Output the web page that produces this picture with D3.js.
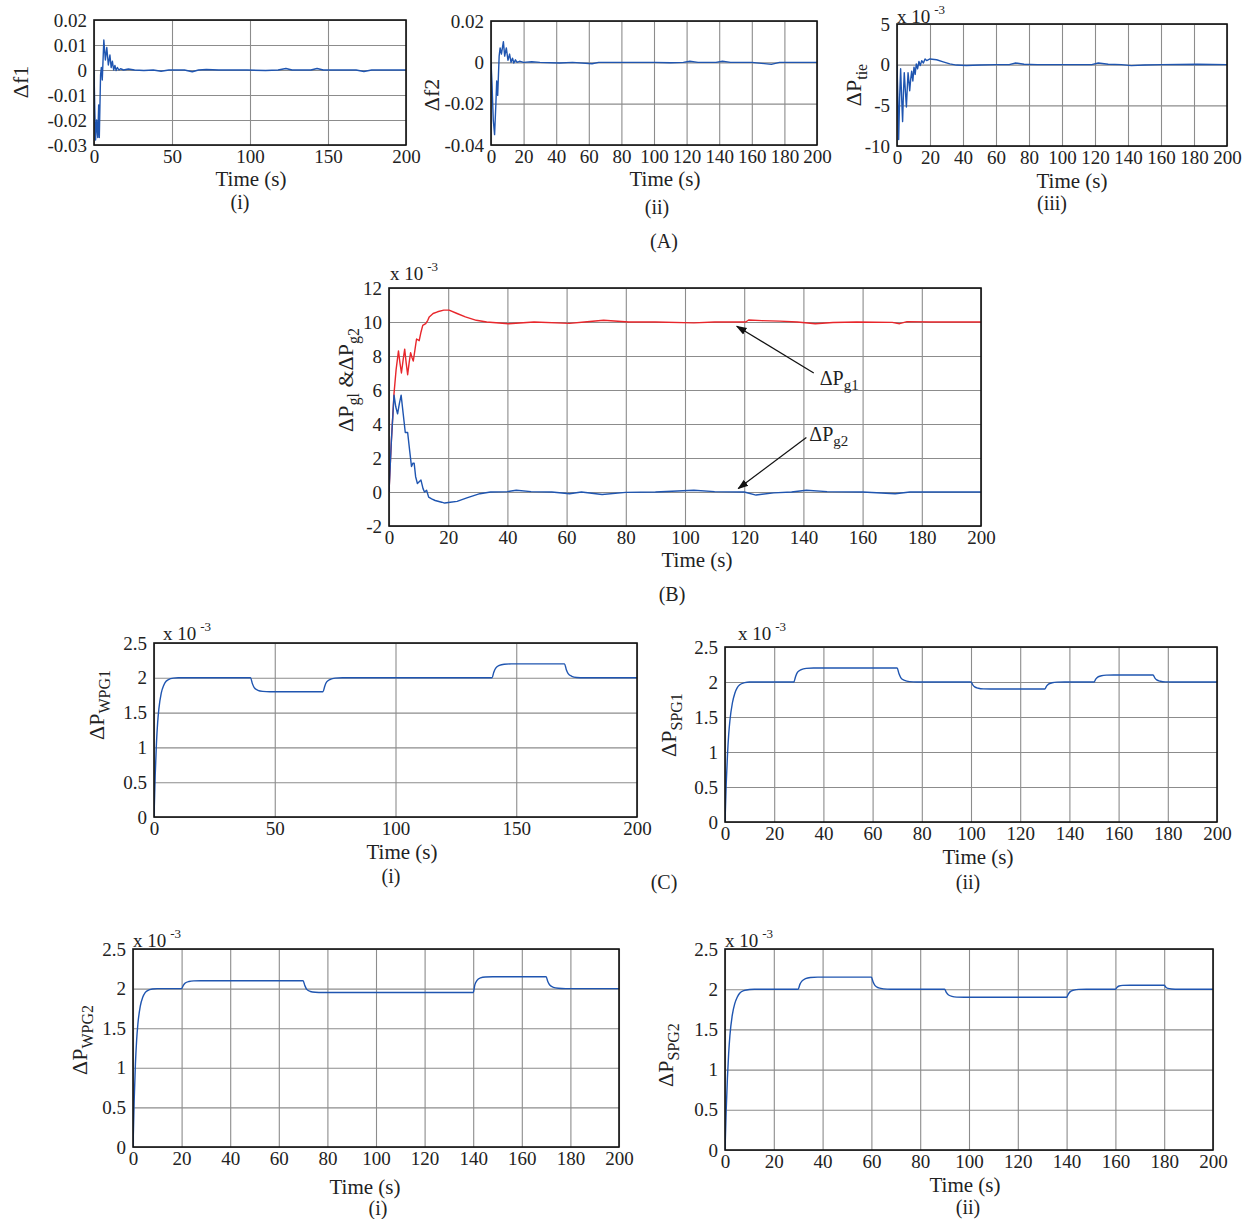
<!DOCTYPE html>
<html>
<head>
<meta charset="utf-8">
<script src="https://cdn.jsdelivr.net/npm/d3@7"></script>
<style>
  body { margin: 0; background: #fff; }
  text { font-family: "Liberation Serif", "Times New Roman", serif; fill: #222; }
</style>
</head>
<body>
<div id="view"></div>
<script>
// ---- data ----
var ticks200by50 = [0, 50, 100, 150, 200];
var ticks200by20 = [0, 20, 40, 60, 80, 100, 120, 140, 160, 180, 200];
var ticksF1 = [-0.03, -0.02, -0.01, 0, 0.01, 0.02];
var ticksF2 = [-0.04, -0.02, 0, 0.02];
var ticksTie = [-10, -5, 0, 5];
var ticksPg = [-2, 0, 2, 4, 6, 8, 10, 12];
var ticksRes = [0, 0.5, 1, 1.5, 2, 2.5];

// (A)(i) delta f1
var df1 = [[0,0],[0.5,-0.016],[1,-0.028],[1.7,-0.02],[2.4,-0.027],[3,-0.014],[3.4,-0.027],[4.2,-0.002],[4.7,0.001],[5.3,-0.004],[6.3,0.012],[7.3,0.004],[8.2,0.009],[9.2,0.002],[10.2,0.006],[11,0.001],[11.8,0.0035],[12.6,0],[13.4,0.0018],[14.2,-0.0002],[15,0.001],[16,0],[17,0.0005],[19,0],[22,0.0004],[26,0],[32,-0.0002],[38,0],[43,-0.0005],[48,0],[58,0],[63,-0.0007],[67,0],[72,0.0002],[80,0],[98,0],[110,-0.0002],[118,0],[123,0.0006],[127,0],[139,0],[143,0.0006],[147,0],[160,0],[168,0],[173,-0.0006],[178,0],[200,0]];

// (A)(ii) delta f2
var df2 = [[0,0],[0.6,-0.01],[1.4,-0.028],[2.2,-0.035],[3,-0.02],[3.5,-0.009],[4.1,-0.016],[5,0.003],[5.6,0.007],[6.4,0.004],[7.6,0.01],[8.4,0.003],[9.4,0.007],[10.4,0.001],[11.4,0.004],[12.3,0],[13.2,0.002],[14,-0.0003],[15,0.0012],[16,0],[17.5,0.0005],[20,0],[25,0.0003],[30,0],[42,-0.0003],[50,0],[62,-0.0007],[66,0],[80,0],[100,0],[110,-0.0002],[118,0],[122,0.0005],[127,0],[138,0],[142,0.0005],[147,0],[160,0],[172,-0.001],[177,0],[200,0]];

// (A)(iii) delta P tie, x 10^-3
var dPtie = [[0,0],[0.5,-4],[1,-9.2],[1.6,-4],[2.2,-0.5],[2.8,-4],[3.4,-7],[3.9,-3.5],[4.4,-1],[5,-3],[5.7,-5.2],[6.2,-3],[6.7,-1],[7.2,-2],[7.7,-3.2],[8.3,-1.8],[8.9,-0.8],[9.6,-2],[10.3,-0.3],[11,-1.2],[11.7,0.1],[12.5,-0.5],[13.3,0.4],[14.1,-0.1],[15,0.5],[16,0.2],[17,0.7],[18,0.5],[20,0.7],[24,0.6],[28,0.35],[32,0.1],[36,-0.05],[42,-0.1],[50,-0.05],[60,0],[68,0],[72,0.2],[77,0.05],[85,0],[110,0],[118,0],[122,0.2],[128,0.05],[136,0],[142,-0.12],[150,-0.05],[160,0],[182,0.05],[200,0]];

// (B) delta Pg1 and delta Pg2, x 10^-3
var dPg1 = [[0,0],[0.8,3],[1.7,5.8],[2.4,7.2],[3.2,8.3],[3.7,7.6],[4.2,7.0],[4.8,7.8],[5.3,8.4],[5.8,7.6],[6.3,6.9],[6.8,7.6],[7.3,8.2],[7.8,7.9],[8.2,7.7],[8.8,8.4],[9.3,9.0],[10.2,8.9],[10.8,9.4],[11.4,9.8],[12.4,9.9],[13.1,10.1],[13.6,10.3],[14.9,10.5],[16.4,10.6],[18.5,10.7],[20.3,10.7],[23,10.5],[25.8,10.3],[29.5,10.1],[33,10.0],[40.4,9.9],[49,10.0],[61,9.92],[66,10.0],[72.5,10.1],[81,10.0],[90,10.0],[103,9.95],[110,10.0],[120.5,10.0],[121.5,10.12],[126,10.08],[132,10.05],[138,10.0],[144,9.9],[150,9.97],[158,10.0],[170,9.98],[172.5,9.9],[175,10.02],[183,10.0],[200,10.0]];
var dPg2 = [[0,0],[0.8,3],[1.7,5.7],[2.3,5.0],[2.9,4.6],[3.5,5.2],[4.1,5.7],[4.8,4.6],[5.5,3.5],[6.3,3.5],[7.0,2.4],[7.6,1.5],[8.1,1.7],[8.5,1.7],[9.0,0.9],[9.6,0.5],[10.2,0.6],[10.8,0.7],[11.5,0.2],[12,0],[12.7,0.1],[13.4,-0.3],[14.4,-0.4],[15.6,-0.5],[17.8,-0.6],[18.8,-0.65],[20.7,-0.6],[23,-0.55],[26.3,-0.35],[30.7,-0.1],[34.3,0],[40,0.02],[43,0.1],[48,0.02],[55,0],[61,-0.1],[65,0],[72,-0.15],[80,-0.02],[90,0],[103,0.1],[110,0.02],[120,0],[124,-0.18],[130,-0.05],[136,0],[141,0.1],[148,0.02],[160,0],[171,-0.1],[176,0],[200,0]];

// (C) and (D) renewable outputs, x 10^-3
var dPwpg1 = [[0,0],[0.5,0.6],[1,1.05],[1.5,1.35],[2,1.55],[3,1.78],[4,1.89],[5,1.95],[6,1.975],[8,1.995],[10,2],[40,2],[40.7,1.92],[41.5,1.86],[43,1.82],[45,1.805],[48,1.8],[70,1.8],[70.7,1.88],[71.5,1.94],[73,1.978],[75,1.995],[78,2],[140,2],[140.7,2.08],[141.5,2.14],[143,2.178],[145,2.195],[148,2.2],[170,2.2],[170.7,2.12],[171.5,2.06],[173,2.022],[175,2.005],[178,2],[200,2]];
var dPspg1 = [[0,0],[0.5,0.55],[1,0.95],[1.5,1.25],[2,1.45],[3,1.7],[4,1.84],[5,1.92],[6,1.96],[8,1.99],[10,2],[28,2],[28.7,2.08],[29.5,2.14],[31,2.178],[33,2.195],[36,2.2],[70,2.2],[70.7,2.12],[71.5,2.06],[73,2.022],[75,2.005],[78,2],[100,2],[100.7,1.96],[101.5,1.93],[103,1.911],[105,1.902],[108,1.9],[130,1.9],[130.7,1.94],[131.5,1.97],[133,1.989],[135,1.998],[138,2],[150,2],[150.7,2.04],[151.5,2.07],[153,2.089],[155,2.098],[158,2.1],[174,2.1],[174.7,2.06],[175.5,2.03],[177,2.011],[179,2.002],[182,2],[200,2]];
var dPwpg2 = [[0,0],[0.5,0.6],[1,1.05],[1.5,1.35],[2,1.55],[3,1.78],[4,1.89],[5,1.95],[6,1.975],[8,1.995],[10,2],[20,2],[20.7,2.04],[21.5,2.07],[23,2.09],[25,2.098],[28,2.1],[70,2.1],[70.7,2.04],[71.5,1.99],[73,1.963],[75,1.953],[78,1.95],[140,1.95],[140.7,2.05],[141.5,2.1],[143,2.135],[145,2.147],[148,2.15],[170,2.15],[170.7,2.09],[171.5,2.045],[173,2.016],[175,2.004],[178,2],[200,2]];
var dPspg2 = [[0,0],[0.5,0.5],[1,0.9],[1.5,1.2],[2,1.42],[3,1.68],[4,1.82],[5,1.9],[6,1.95],[8,1.985],[10,1.997],[12,2],[30,2],[30.7,2.06],[31.5,2.1],[33,2.132],[35,2.146],[38,2.15],[60,2.15],[60.7,2.09],[61.5,2.045],[63,2.016],[65,2.004],[68,2],[90,2],[90.7,1.96],[91.5,1.93],[93,1.911],[95,1.902],[98,1.9],[140,1.9],[140.7,1.94],[141.5,1.97],[143,1.989],[145,1.998],[148,2],[160,2],[160.7,2.025],[161.5,2.04],[163,2.047],[166,2.05],[180,2.05],[180.7,2.025],[181.5,2.01],[183,2.003],[186,2],[200,2]];

var blue = "#1f55b0", red = "#e8262b";

var svg = d3.select("#view")
    .append("svg")
    .attr("width", 1249)
    .attr("height", 1219);

var fmt = function(d) { return String(+d.toFixed(4)); };

function drawPanel(p) {
    var x = d3.scaleLinear().domain([0, 200]).range([p.left, p.right]);
    var y = d3.scaleLinear().domain(p.yDomain).range([p.bottom, p.top]);
    var g = svg.append("g");
    var h = p.bottom - p.top, w = p.right - p.left;

    // grid from the axes
    g.append("g")
        .attr("transform", "translate(0," + p.bottom + ")")
        .call(d3.axisBottom(x).tickValues(p.xTicks).tickSize(-h).tickFormat(""))
        .call(function(s) { s.select(".domain").remove(); })
        .selectAll("line").attr("stroke", "#8c8c8c").attr("stroke-width", 1.1);
    g.append("g")
        .attr("transform", "translate(" + p.left + ",0)")
        .call(d3.axisLeft(y).tickValues(p.yTicks).tickSize(-w).tickFormat(""))
        .call(function(s) { s.select(".domain").remove(); })
        .selectAll("line").attr("stroke", "#8c8c8c").attr("stroke-width", 1.1);

    // tick labels
    var xa = g.append("g")
        .attr("transform", "translate(0," + p.bottom + ")")
        .call(d3.axisBottom(x).tickValues(p.xTicks).tickSize(0).tickPadding(5).tickFormat(fmt));
    xa.select(".domain").remove();
    xa.attr("font-family", null).attr("font-size", null);
    xa.selectAll("text").attr("font-size", 19).attr("fill", "#222");
    var ya = g.append("g")
        .attr("transform", "translate(" + p.left + ",0)")
        .call(d3.axisLeft(y).tickValues(p.yTicks).tickSize(0).tickPadding(7).tickFormat(fmt));
    ya.select(".domain").remove();
    ya.attr("font-family", null).attr("font-size", null);
    ya.selectAll("text").attr("font-size", 19).attr("fill", "#222");

    // series
    var clipId = "clip" + p.id;
    svg.append("clipPath").attr("id", clipId)
        .append("rect").attr("x", p.left).attr("y", p.top).attr("width", w).attr("height", h);
    p.series.forEach(function(s) {
        g.append("path")
            .datum(s.data)
            .attr("clip-path", "url(#" + clipId + ")")
            .attr("fill", "none")
            .attr("stroke", s.color)
            .attr("stroke-width", 1.4)
            .attr("stroke-linejoin", "round")
            .attr("d", d3.line()
                .curve(p.smooth ? d3.curveMonotoneX : d3.curveLinear)
                .x(function(d) { return x(d[0]); })
                .y(function(d) { return y(d[1]); }));
    });

    // box
    g.append("rect")
        .attr("x", p.left).attr("y", p.top).attr("width", w).attr("height", h)
        .attr("fill", "none").attr("stroke", "#111").attr("stroke-width", 1.6);

    // exponent
    if (p.expo) {
        var e = g.append("text").attr("x", p.expo[0]).attr("y", p.expo[1]).attr("font-size", 19);
        e.append("tspan").text("x 10");
        e.append("tspan").attr("dx", 4).attr("dy", -9).attr("font-size", 13).text("-3");
    }

    // y label
    var yl = g.append("text")
        .attr("transform", "translate(" + p.ylab[0] + "," + p.ylab[1] + ") rotate(-90)")
        .attr("text-anchor", "middle")
        .attr("font-size", 22);
    p.ylabel.forEach(function(part) {
        var t = yl.append("tspan").text(part.t);
        if (part.sub) t.attr("font-size", 16).attr("dy", 6);
        if (part.back) t.attr("dy", -6);
    });

    // x label and sub caption
    g.append("text").attr("x", p.xlab[0]).attr("y", p.xlab[1])
        .attr("text-anchor", "middle").attr("font-size", 21).text("Time (s)");
    g.append("text").attr("x", p.cap[0]).attr("y", p.cap[1])
        .attr("text-anchor", "middle").attr("font-size", 20).text(p.caption);

    return {x: x, y: y, g: g};
}

drawPanel({id: "a1", left: 94, right: 406, top: 20, bottom: 145,
    yDomain: [-0.03, 0.02], xTicks: ticks200by50, yTicks: ticksF1,
    series: [{data: df1, color: blue}],
    ylab: [28, 82], ylabel: [{t: "Δf1"}],
    xlab: [251, 186], cap: [240, 209], caption: "(i)"});

drawPanel({id: "a2", left: 491, right: 817, top: 21, bottom: 145,
    yDomain: [-0.04, 0.02], xTicks: ticks200by20, yTicks: ticksF2,
    series: [{data: df2, color: blue}],
    ylab: [439, 95], ylabel: [{t: "Δf2"}],
    xlab: [665, 186], cap: [657, 214], caption: "(ii)"});

drawPanel({id: "a3", left: 897, right: 1227, top: 24, bottom: 146,
    yDomain: [-10, 5], xTicks: ticks200by20, yTicks: ticksTie,
    series: [{data: dPtie, color: blue}],
    expo: [897, 23],
    ylab: [861, 85], ylabel: [{t: "ΔP"}, {t: "tie", sub: true}],
    xlab: [1072, 188], cap: [1052, 210], caption: "(iii)"});

svg.append("text").attr("x", 664).attr("y", 248).attr("text-anchor", "middle")
    .attr("font-size", 20).text("(A)");

var pb = drawPanel({id: "b", left: 389, right: 981, top: 288, bottom: 526,
    yDomain: [-2, 12], xTicks: ticks200by20, yTicks: ticksPg,
    series: [{data: dPg1, color: red}, {data: dPg2, color: blue}],
    expo: [390, 280],
    ylab: [353, 380], ylabel: [{t: "ΔP"}, {t: "gl", sub: true}, {t: " &ΔP", back: true}, {t: "g2", sub: true}],
    xlab: [697, 567], cap: [672, 601], caption: "(B)"});

// arrows pointing at the two curves in (B)
svg.append("defs").append("marker")
    .attr("id", "arrowhead")
    .attr("viewBox", "0 0 10 10")
    .attr("refX", 9).attr("refY", 5)
    .attr("markerWidth", 9).attr("markerHeight", 9)
    .attr("orient", "auto")
    .append("path").attr("d", "M0,1.5 L10,5 L0,8.5 Z").attr("fill", "#111");

var notes = [
    {from: [143.5, 7.0], to: [117.5, 9.75], label: [145.5, 6.3], name: "g1"},
    {from: [141.0, 3.2], to: [118.0, 0.2], label: [142.0, 3.0], name: "g2"}
];
notes.forEach(function(n) {
    pb.g.append("line")
        .attr("x1", pb.x(n.from[0])).attr("y1", pb.y(n.from[1]))
        .attr("x2", pb.x(n.to[0])).attr("y2", pb.y(n.to[1]))
        .attr("stroke", "#111").attr("stroke-width", 1.2)
        .attr("marker-end", "url(#arrowhead)");
    var t = pb.g.append("text").attr("x", pb.x(n.label[0])).attr("y", pb.y(n.label[1]))
        .attr("font-size", 20);
    t.append("tspan").text("ΔP");
    t.append("tspan").attr("font-size", 15).attr("dy", 5).text(n.name);
});

drawPanel({id: "c1", left: 154, right: 637, top: 643, bottom: 817,
    yDomain: [0, 2.5], xTicks: ticks200by50, yTicks: ticksRes, smooth: true,
    series: [{data: dPwpg1, color: blue}],
    expo: [163, 640],
    ylab: [104, 705], ylabel: [{t: "ΔP"}, {t: "WPG1", sub: true}],
    xlab: [402, 859], cap: [391, 883], caption: "(i)"});

drawPanel({id: "c2", left: 725, right: 1217, top: 647, bottom: 822,
    yDomain: [0, 2.5], xTicks: ticks200by20, yTicks: ticksRes, smooth: true,
    series: [{data: dPspg1, color: blue}],
    expo: [738, 640],
    ylab: [676, 725], ylabel: [{t: "ΔP"}, {t: "SPG1", sub: true}],
    xlab: [978, 864], cap: [968, 889], caption: "(ii)"});

svg.append("text").attr("x", 664).attr("y", 889).attr("text-anchor", "middle")
    .attr("font-size", 20).text("(C)");

drawPanel({id: "d1", left: 133, right: 619, top: 949, bottom: 1147,
    yDomain: [0, 2.5], xTicks: ticks200by20, yTicks: ticksRes, smooth: true,
    series: [{data: dPwpg2, color: blue}],
    expo: [133, 947],
    ylab: [87, 1040], ylabel: [{t: "ΔP"}, {t: "WPG2", sub: true}],
    xlab: [365, 1194], cap: [378, 1215], caption: "(i)"});

drawPanel({id: "d2", left: 725, right: 1213, top: 949, bottom: 1150,
    yDomain: [0, 2.5], xTicks: ticks200by20, yTicks: ticksRes, smooth: true,
    series: [{data: dPspg2, color: blue}],
    expo: [725, 947],
    ylab: [673, 1055], ylabel: [{t: "ΔP"}, {t: "SPG2", sub: true}],
    xlab: [965, 1192], cap: [968, 1214], caption: "(ii)"});
</script>
</body>
</html>
